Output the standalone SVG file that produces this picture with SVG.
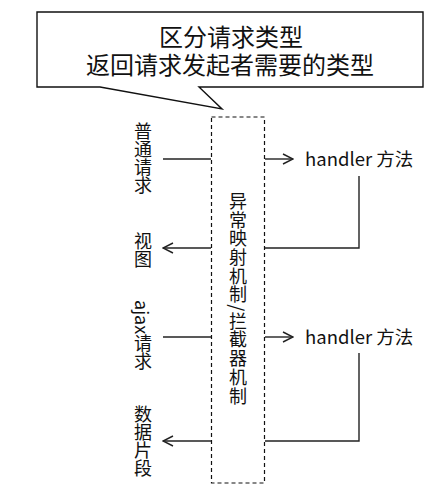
<svg xmlns="http://www.w3.org/2000/svg" width="443" height="493" viewBox="0 0 443 493">
<style>
.t{font-family:"Noto Sans CJK SC","Microsoft YaHei",sans-serif;fill:#111}
.v{writing-mode:tb;font-size:18px}
.ln{stroke:#222;stroke-width:1.4;fill:none}
</style>
<defs>
<marker id="ah" viewBox="0 0 12 12" refX="11" refY="6" markerWidth="12" markerHeight="12" markerUnits="userSpaceOnUse" orient="auto">
<path d="M1,1 L11,6 L1,11" fill="none" stroke="#222" stroke-width="1.4"/>
</marker>
</defs>
<rect width="443" height="493" fill="#fff"/>
<g id="callout">
<path d="M37,12 H423 V87 H199 L222,109 L100,87 H37 Z" fill="#fff" stroke="#111" stroke-width="1.4"/>
<text class="t" x="231" y="46" font-size="24" text-anchor="middle">区分请求类型</text>
<text class="t" x="230" y="74" font-size="24" text-anchor="middle">返回请求发起者需要的类型</text>
</g>
<g id="mechanism">
<rect x="211.5" y="117" width="53" height="366" fill="none" stroke="#111" stroke-width="1.2" stroke-dasharray="4,3"/>
<text class="t v" x="238" y="192" letter-spacing="0.7">异常映射机制/拦截器机制</text>
</g>
<g id="req1"><text class="t v" x="143" y="122">普通请求</text></g>
<g id="view"><text class="t v" x="143" y="232">视图</text></g>
<g id="req2"><text class="t v" x="143" y="300">ajax请求</text></g>
<g id="data"><text class="t v" x="143" y="405">数据片段</text></g>
<g id="handler1"><text class="t" x="305" y="166" font-size="18.5">handler 方法</text></g>
<g id="handler2"><text class="t" x="305" y="344" font-size="18.5">handler 方法</text></g>
<g id="connectors">
<line class="ln" x1="163" y1="159" x2="211" y2="159"/>
<line class="ln" x1="265" y1="159" x2="293" y2="159" marker-end="url(#ah)"/>
<polyline class="ln" points="359,176 359,248 265,248"/>
<line class="ln" x1="211" y1="248" x2="163" y2="248" marker-end="url(#ah)"/>
<line class="ln" x1="163" y1="337" x2="211" y2="337"/>
<line class="ln" x1="265" y1="337" x2="293" y2="337" marker-end="url(#ah)"/>
<polyline class="ln" points="359,353 359,441 265,441"/>
<line class="ln" x1="211" y1="441" x2="163" y2="441" marker-end="url(#ah)"/>
</g>
</svg>
